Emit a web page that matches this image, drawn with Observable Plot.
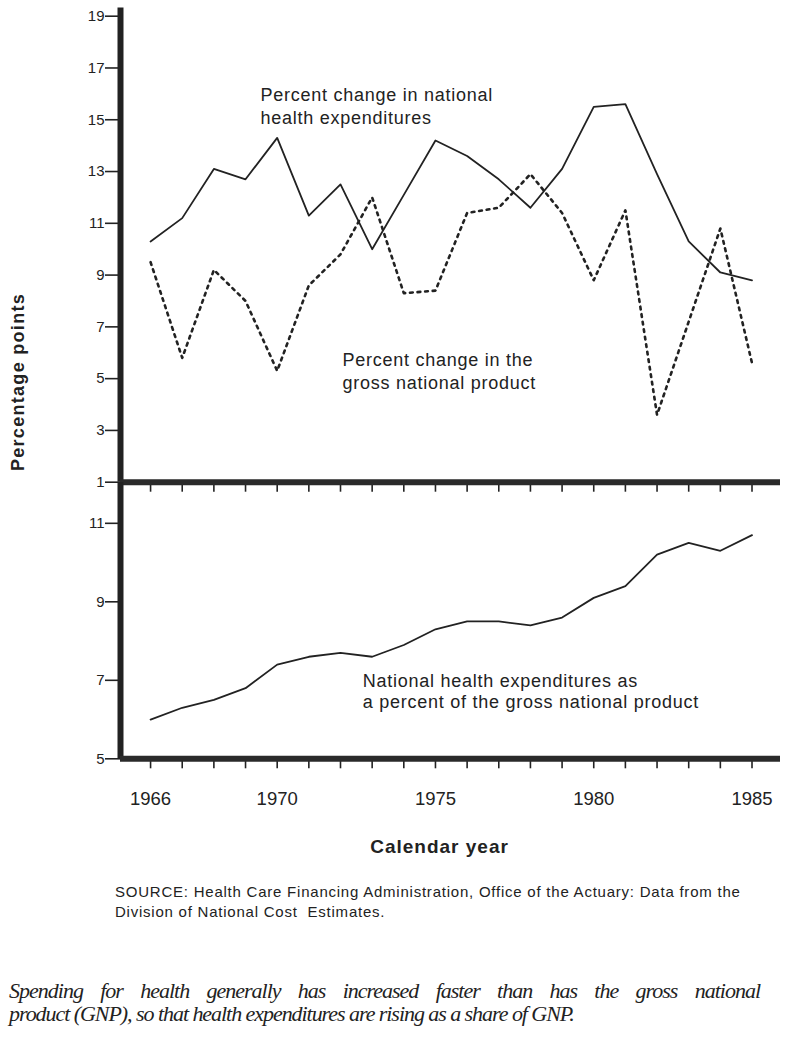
<!DOCTYPE html>
<html>
<head>
<meta charset="utf-8">
<script src="https://cdn.jsdelivr.net/npm/d3@7"></script>
<script src="https://cdn.jsdelivr.net/npm/@observablehq/plot@0.6"></script>
<style>
  body { margin: 0; background: #ffffff; }
  #wrap { position: relative; width: 786px; height: 1039px; overflow: hidden;
          font-family: "Liberation Sans", Arial, Helvetica, sans-serif; color: #1e1e1e; background: #fff; }
  #wrap svg { overflow: visible; }
  .abs { position: absolute; white-space: nowrap; }
  .plotbox { position: absolute; left: 0; }
</style>
</head>
<body>
<div id="wrap"></div>
<script>
// ---------- data ----------
const years = [1966, 1967, 1968, 1969, 1970, 1971, 1972, 1973, 1974, 1975,
               1976, 1977, 1978, 1979, 1980, 1981, 1982, 1983, 1984, 1985];
// Percent change in national health expenditures (solid line)
const nheChange = [10.3, 11.2, 13.1, 12.7, 14.3, 11.3, 12.5, 10.0, 12.1, 14.2,
                   13.6, 12.7, 11.6, 13.1, 15.5, 15.6, 12.9, 10.3, 9.1, 8.8];
// Percent change in the gross national product (dotted line)
const gnpChange = [9.5, 5.8, 9.2, 8.0, 5.3, 8.6, 9.8, 12.0, 8.3, 8.4,
                   11.4, 11.6, 12.9, 11.4, 8.8, 11.5, 3.6, 7.2, 10.8, 5.6];
// National health expenditures as a percent of GNP (bottom panel)
const nheShare = [6.0, 6.3, 6.5, 6.8, 7.4, 7.6, 7.7, 7.6, 7.9, 8.3,
                  8.5, 8.5, 8.4, 8.6, 9.1, 9.4, 10.2, 10.5, 10.3, 10.7];

const topTicks = [1, 3, 5, 7, 9, 11, 13, 15, 17, 19];
const bottomTicks = [5, 7, 9, 11];
const labelYears = [1966, 1970, 1975, 1980, 1985];

const topNotes = [
  {year: 1969.47, value: 16.32, text: "Percent change in national\nhealth expenditures"},
  {year: 1972.06, value: 6.09,  text: "Percent change in the\ngross national product"}
];
const bottomNotes = [
  {year: 1972.70, value: 7.21, text: "National health expenditures as\na percent of the gross national product"}
];

const yLabel = "Percentage points";
const xLabel = "Calendar year";
const sourceLines = [
  "SOURCE: Health Care Financing Administration, Office of the Actuary: Data from the",
  "Division of National Cost  Estimates."
];
const captionLines = [
  "Spending for health generally has increased faster than has the gross national",
  "product (GNP), so that health expenditures are rising as a share of GNP."
];

// ---------- table ----------
const rows = years.map((year, i) => ({year, nhe: nheChange[i], gnp: gnpChange[i], share: nheShare[i]}));

const ink = "#222";
const xDomain = [1965.05, 1985.9];
const font = "Liberation Sans, Arial, Helvetica, sans-serif";
const wrap = document.getElementById("wrap");

// ---------- top panel ----------
const topPlot = Plot.plot({
  width: 786, height: 490,
  marginTop: 10, marginBottom: 8.3, marginLeft: 120, marginRight: 6,
  style: {background: "transparent", overflow: "visible", fontFamily: font, color: ink},
  x: {domain: xDomain, label: null},
  y: {domain: [1, 19.22], label: null},
  marks: [
    Plot.axisY(topTicks, {tickSize: 15, tickPadding: 1, fontSize: 15, strokeWidth: 1.6, tickFormat: d => String(d), label: null}),
    Plot.axisX(years, {tickSize: 10, strokeWidth: 1.6, tickFormat: () => "", label: null}),
    Plot.ruleX([xDomain[0]], {y1: 19.32, y2: 1, strokeWidth: 6, stroke: ink}),
    Plot.ruleY([1], {strokeWidth: 6, stroke: "#2a2a2a"}),
    Plot.line(rows, {x: "year", y: "nhe", stroke: ink, strokeWidth: 1.8}),
    Plot.line(rows, {x: "year", y: "gnp", stroke: ink, strokeWidth: 2.6, strokeDasharray: "2.8,4.8"}),
    Plot.text(topNotes, {x: "year", y: "value", text: "text", textAnchor: "start", lineAnchor: "top",
                         fontSize: 18, lineHeight: 1.24, fill: ink})
  ]
});
d3.select(topPlot).selectAll('g[aria-label="text"] text').style("letter-spacing", "0.75px");
const topBox = document.createElement("div");
topBox.className = "plotbox"; topBox.style.top = "0px";
topBox.appendChild(topPlot);
wrap.appendChild(topBox);

// ---------- bottom panel ----------
const bottomPlot = Plot.plot({
  width: 786, height: 340,
  marginTop: 0, marginBottom: 63.7, marginLeft: 120, marginRight: 6,
  style: {background: "transparent", overflow: "visible", fontFamily: font, color: ink},
  x: {domain: xDomain, label: null},
  y: {domain: [5, 12.04], label: null},
  marks: [
    Plot.axisY(bottomTicks, {tickSize: 15, tickPadding: 1, fontSize: 15, strokeWidth: 1.6, tickFormat: d => String(d), label: null}),
    Plot.axisX(years, {tickSize: 10, strokeWidth: 1.6, tickFormat: () => "", label: null}),
    Plot.axisX(labelYears, {tickSize: 0, tickPadding: 33, fontSize: 18.5, tickFormat: d => String(d), label: null}),
    Plot.ruleX([xDomain[0]], {strokeWidth: 6, stroke: ink}),
    Plot.ruleY([5], {strokeWidth: 6, stroke: "#2a2a2a"}),
    Plot.line(rows, {x: "year", y: "share", stroke: ink, strokeWidth: 1.8}),
    Plot.text(bottomNotes, {x: "year", y: "value", text: "text", textAnchor: "start", lineAnchor: "top",
                            fontSize: 18, lineHeight: 1.17, fill: ink})
  ]
});
d3.select(bottomPlot).selectAll('g[aria-label="text"] text').style("letter-spacing", "0.75px");
const bottomBox = document.createElement("div");
bottomBox.className = "plotbox"; bottomBox.style.top = "482px";
bottomBox.appendChild(bottomPlot);
wrap.appendChild(bottomBox);

// ---------- texts around the chart ----------
function addText(txt, css) {
  const d = document.createElement("div");
  d.className = "abs";
  d.textContent = txt;
  Object.assign(d.style, css);
  wrap.appendChild(d);
  return d;
}
addText(yLabel, {left: "18.3px", top: "381.7px", fontSize: "18px", fontWeight: "bold", letterSpacing: "1.3px",
                 transform: "translate(-50%,-50%) rotate(-90deg)", color: ink});
addText(xLabel, {left: "439.5px", top: "837.4px", fontSize: "19px", lineHeight: "19px", fontWeight: "bold",
                 letterSpacing: "1px", transform: "translateX(-50%)", color: ink});
addText(sourceLines[0], {left: "115px", top: "881.5px", fontSize: "15px", lineHeight: "20px", letterSpacing: "0.77px", color: ink});
addText(sourceLines[1], {left: "115px", top: "901.8px", fontSize: "15px", lineHeight: "20px", letterSpacing: "0.77px", color: ink, whiteSpace: "pre"});

addText(captionLines[0], {left: "9px", top: "979px", width: "751px", fontFamily: '"Liberation Serif", "Times New Roman", serif',
  fontStyle: "italic", fontSize: "22px", lineHeight: "23px", letterSpacing: "-1px", textAlign: "justify",
  textAlignLast: "justify", whiteSpace: "normal", color: ink});
addText(captionLines[1], {left: "9px", top: "1002px", fontFamily: '"Liberation Serif", "Times New Roman", serif',
  fontStyle: "italic", fontSize: "22px", lineHeight: "23px", letterSpacing: "-1.05px", color: ink});
</script>
</body>
</html>
